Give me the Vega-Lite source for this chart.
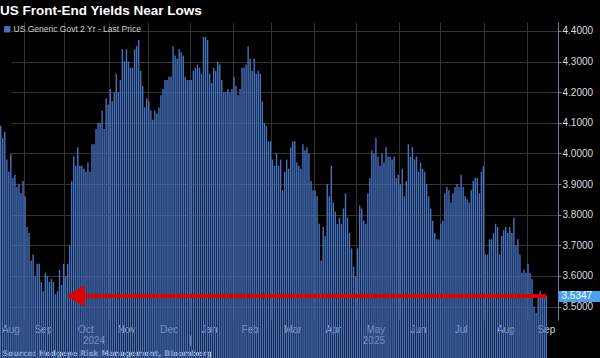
{
"$schema": "https://vega.github.io/schema/vega-lite/v6.json",
"width": 558, "height": 298,
"autosize": "none",
"padding": {"left": 0, "top": 22, "right": 42, "bottom": 38},
"background": "#000000",
"config": {"view": {"stroke": null}, "font": "Liberation Sans"},
"title": {"text": "US Front-End Yields Near Lows", "anchor": "start", "frame": "group", "color": "#ffffff", "font": "Liberation Sans", "fontSize": 13.5, "fontWeight": "bold", "baseline": "alphabetic", "offset": -6},
"datasets": {
"yields": [
{"d":"2024-08-15","v":4.09},{"d":"2024-08-16","v":4.05},{"d":"2024-08-19","v":4.07},{"d":"2024-08-20","v":3.98},{"d":"2024-08-21","v":3.94},{"d":"2024-08-22","v":4.00},{"d":"2024-08-23","v":3.92},{"d":"2024-08-26","v":3.93},{"d":"2024-08-27","v":3.89},{"d":"2024-08-28","v":3.90},{"d":"2024-08-29","v":3.87},{"d":"2024-08-30","v":3.91},
{"d":"2024-09-03","v":3.86},{"d":"2024-09-04","v":3.76},{"d":"2024-09-05","v":3.74},{"d":"2024-09-06","v":3.65},{"d":"2024-09-09","v":3.67},{"d":"2024-09-10","v":3.60},{"d":"2024-09-11","v":3.64},{"d":"2024-09-12","v":3.64},{"d":"2024-09-13","v":3.58},{"d":"2024-09-16","v":3.55},{"d":"2024-09-17","v":3.61},{"d":"2024-09-18","v":3.60},{"d":"2024-09-19","v":3.58},{"d":"2024-09-20","v":3.59},{"d":"2024-09-23","v":3.58},{"d":"2024-09-24","v":3.54},{"d":"2024-09-25","v":3.55},{"d":"2024-09-26","v":3.62},{"d":"2024-09-27","v":3.57},{"d":"2024-09-30","v":3.64},
{"d":"2024-10-01","v":3.60},{"d":"2024-10-02","v":3.64},{"d":"2024-10-03","v":3.70},{"d":"2024-10-04","v":3.91},{"d":"2024-10-07","v":3.99},{"d":"2024-10-08","v":3.96},{"d":"2024-10-09","v":4.02},{"d":"2024-10-10","v":3.96},{"d":"2024-10-11","v":3.96},{"d":"2024-10-15","v":3.95},{"d":"2024-10-16","v":3.94},{"d":"2024-10-17","v":3.97},{"d":"2024-10-18","v":3.94},{"d":"2024-10-21","v":4.03},{"d":"2024-10-22","v":4.03},{"d":"2024-10-23","v":4.08},{"d":"2024-10-24","v":4.10},{"d":"2024-10-25","v":4.10},{"d":"2024-10-28","v":4.14},{"d":"2024-10-29","v":4.08},{"d":"2024-10-30","v":4.18},{"d":"2024-10-31","v":4.16},
{"d":"2024-11-01","v":4.21},{"d":"2024-11-04","v":4.17},{"d":"2024-11-05","v":4.20},{"d":"2024-11-06","v":4.26},{"d":"2024-11-07","v":4.20},{"d":"2024-11-08","v":4.24},{"d":"2024-11-12","v":4.34},{"d":"2024-11-13","v":4.30},{"d":"2024-11-14","v":4.34},{"d":"2024-11-15","v":4.30},{"d":"2024-11-18","v":4.28},{"d":"2024-11-19","v":4.28},{"d":"2024-11-20","v":4.34},{"d":"2024-11-21","v":4.35},{"d":"2024-11-22","v":4.37},{"d":"2024-11-25","v":4.27},{"d":"2024-11-26","v":4.22},{"d":"2024-11-27","v":4.15},{"d":"2024-11-29","v":4.18},
{"d":"2024-12-02","v":4.17},{"d":"2024-12-03","v":4.14},{"d":"2024-12-04","v":4.11},{"d":"2024-12-05","v":4.14},{"d":"2024-12-06","v":4.13},{"d":"2024-12-09","v":4.15},{"d":"2024-12-10","v":4.19},{"d":"2024-12-11","v":4.21},{"d":"2024-12-12","v":4.24},{"d":"2024-12-13","v":4.24},{"d":"2024-12-16","v":4.25},{"d":"2024-12-17","v":4.25},{"d":"2024-12-18","v":4.35},{"d":"2024-12-19","v":4.32},{"d":"2024-12-20","v":4.31},{"d":"2024-12-23","v":4.34},{"d":"2024-12-24","v":4.33},{"d":"2024-12-26","v":4.32},{"d":"2024-12-27","v":4.25},{"d":"2024-12-30","v":4.24},{"d":"2024-12-31","v":4.24},
{"d":"2025-01-02","v":4.24},{"d":"2025-01-03","v":4.27},{"d":"2025-01-06","v":4.28},{"d":"2025-01-07","v":4.29},{"d":"2025-01-08","v":4.28},{"d":"2025-01-09","v":4.26},{"d":"2025-01-10","v":4.38},{"d":"2025-01-13","v":4.38},{"d":"2025-01-14","v":4.37},{"d":"2025-01-15","v":4.26},{"d":"2025-01-16","v":4.23},{"d":"2025-01-17","v":4.28},{"d":"2025-01-21","v":4.27},{"d":"2025-01-22","v":4.30},{"d":"2025-01-23","v":4.29},{"d":"2025-01-24","v":4.24},{"d":"2025-01-27","v":4.20},{"d":"2025-01-28","v":4.20},{"d":"2025-01-29","v":4.21},{"d":"2025-01-30","v":4.20},{"d":"2025-01-31","v":4.21},
{"d":"2025-02-03","v":4.25},{"d":"2025-02-04","v":4.22},{"d":"2025-02-05","v":4.19},{"d":"2025-02-06","v":4.21},{"d":"2025-02-07","v":4.28},{"d":"2025-02-10","v":4.28},{"d":"2025-02-11","v":4.29},{"d":"2025-02-12","v":4.35},{"d":"2025-02-13","v":4.31},{"d":"2025-02-14","v":4.27},{"d":"2025-02-18","v":4.31},{"d":"2025-02-19","v":4.26},{"d":"2025-02-20","v":4.27},{"d":"2025-02-21","v":4.26},{"d":"2025-02-24","v":4.17},{"d":"2025-02-25","v":4.10},{"d":"2025-02-26","v":4.09},{"d":"2025-02-27","v":4.04},{"d":"2025-02-28","v":4.04},
{"d":"2025-03-03","v":3.98},{"d":"2025-03-04","v":3.96},{"d":"2025-03-05","v":4.00},{"d":"2025-03-06","v":3.96},{"d":"2025-03-07","v":3.98},{"d":"2025-03-10","v":3.88},{"d":"2025-03-11","v":3.94},{"d":"2025-03-12","v":3.98},{"d":"2025-03-13","v":3.95},{"d":"2025-03-14","v":4.02},{"d":"2025-03-17","v":4.04},{"d":"2025-03-18","v":4.04},{"d":"2025-03-19","v":3.97},{"d":"2025-03-20","v":3.96},{"d":"2025-03-21","v":3.95},{"d":"2025-03-24","v":4.03},{"d":"2025-03-25","v":4.01},{"d":"2025-03-26","v":4.02},{"d":"2025-03-27","v":4.00},{"d":"2025-03-28","v":3.91},{"d":"2025-03-31","v":3.88},
{"d":"2025-04-01","v":3.88},{"d":"2025-04-02","v":3.86},{"d":"2025-04-03","v":3.77},{"d":"2025-04-04","v":3.65},{"d":"2025-04-07","v":3.76},{"d":"2025-04-08","v":3.73},{"d":"2025-04-09","v":3.90},{"d":"2025-04-10","v":3.86},{"d":"2025-04-11","v":3.96},{"d":"2025-04-14","v":3.84},{"d":"2025-04-15","v":3.81},{"d":"2025-04-16","v":3.77},{"d":"2025-04-17","v":3.79},{"d":"2025-04-21","v":3.77},{"d":"2025-04-22","v":3.82},{"d":"2025-04-23","v":3.87},{"d":"2025-04-24","v":3.79},{"d":"2025-04-25","v":3.74},{"d":"2025-04-28","v":3.69},{"d":"2025-04-29","v":3.63},{"d":"2025-04-30","v":3.60},
{"d":"2025-05-01","v":3.69},{"d":"2025-05-02","v":3.83},{"d":"2025-05-05","v":3.82},{"d":"2025-05-06","v":3.78},{"d":"2025-05-07","v":3.77},{"d":"2025-05-08","v":3.87},{"d":"2025-05-09","v":3.92},{"d":"2025-05-12","v":4.01},{"d":"2025-05-13","v":4.00},{"d":"2025-05-14","v":4.05},{"d":"2025-05-15","v":3.99},{"d":"2025-05-16","v":3.96},{"d":"2025-05-19","v":4.00},{"d":"2025-05-20","v":3.97},{"d":"2025-05-21","v":4.02},{"d":"2025-05-22","v":3.99},{"d":"2025-05-23","v":3.99},{"d":"2025-05-27","v":3.98},{"d":"2025-05-28","v":3.99},{"d":"2025-05-29","v":3.92},{"d":"2025-05-30","v":3.93},
{"d":"2025-06-02","v":3.90},{"d":"2025-06-03","v":3.95},{"d":"2025-06-04","v":3.86},{"d":"2025-06-05","v":3.91},{"d":"2025-06-06","v":4.03},{"d":"2025-06-09","v":3.99},{"d":"2025-06-10","v":4.02},{"d":"2025-06-11","v":3.98},{"d":"2025-06-12","v":3.99},{"d":"2025-06-13","v":3.94},{"d":"2025-06-16","v":3.97},{"d":"2025-06-17","v":3.95},{"d":"2025-06-18","v":3.94},{"d":"2025-06-20","v":3.90},{"d":"2025-06-23","v":3.86},{"d":"2025-06-24","v":3.82},{"d":"2025-06-25","v":3.78},{"d":"2025-06-26","v":3.74},{"d":"2025-06-27","v":3.72},{"d":"2025-06-30","v":3.72},
{"d":"2025-07-01","v":3.77},{"d":"2025-07-02","v":3.78},{"d":"2025-07-03","v":3.87},{"d":"2025-07-07","v":3.89},{"d":"2025-07-08","v":3.88},{"d":"2025-07-09","v":3.84},{"d":"2025-07-10","v":3.87},{"d":"2025-07-11","v":3.89},{"d":"2025-07-14","v":3.90},{"d":"2025-07-15","v":3.89},{"d":"2025-07-16","v":3.93},{"d":"2025-07-17","v":3.89},{"d":"2025-07-18","v":3.86},{"d":"2025-07-21","v":3.85},{"d":"2025-07-22","v":3.84},{"d":"2025-07-23","v":3.88},{"d":"2025-07-24","v":3.91},{"d":"2025-07-25","v":3.92},{"d":"2025-07-28","v":3.92},{"d":"2025-07-29","v":3.87},{"d":"2025-07-30","v":3.94},{"d":"2025-07-31","v":3.96},
{"d":"2025-08-01","v":3.67},{"d":"2025-08-04","v":3.67},{"d":"2025-08-05","v":3.72},{"d":"2025-08-06","v":3.72},{"d":"2025-08-07","v":3.74},{"d":"2025-08-08","v":3.77},{"d":"2025-08-11","v":3.76},{"d":"2025-08-12","v":3.67},{"d":"2025-08-13","v":3.73},{"d":"2025-08-14","v":3.75},{"d":"2025-08-15","v":3.76},{"d":"2025-08-18","v":3.74},{"d":"2025-08-19","v":3.76},{"d":"2025-08-20","v":3.74},{"d":"2025-08-21","v":3.79},{"d":"2025-08-22","v":3.70},{"d":"2025-08-25","v":3.72},{"d":"2025-08-26","v":3.67},{"d":"2025-08-27","v":3.61},{"d":"2025-08-28","v":3.62},{"d":"2025-08-29","v":3.61},
{"d":"2025-09-02","v":3.64},{"d":"2025-09-03","v":3.61},{"d":"2025-09-04","v":3.59},{"d":"2025-09-05","v":3.50},{"d":"2025-09-08","v":3.48},{"d":"2025-09-09","v":3.53},{"d":"2025-09-10","v":3.55},{"d":"2025-09-11","v":3.54},{"d":"2025-09-12","v":3.53},{"d":"2025-09-15","v":3.5347}
],
"arrow": [{"from": "2024-10-08", "to": "2025-09-15", "level": 3.5347}]
},
"layer": [
{
"data": {"name": "yields"},
"mark": {"type": "bar", "color": "#4571bd"},
"encoding": {
"x": {"field": "d", "type": "ordinal",
"scale": {"range": [0, 547], "paddingInner": 0.3, "paddingOuter": 0},
"axis": {"orient": "bottom", "values": ["2024-09-03","2024-10-01","2024-11-01","2024-12-02","2025-01-02","2025-02-03","2025-03-03","2025-04-01","2025-05-01","2025-06-02","2025-07-01","2025-08-01","2025-09-02"],
"labels": false, "ticks": false, "domain": false, "grid": true, "gridColor": "#333333", "gridWidth": 1, "bandPosition": 0,
"title": "Source: Hedgeye Risk Management, Bloomberg", "titleFont": "DejaVu Sans", "titleFontSize": 7.8, "titleFontWeight": "bold", "titleColor": "#ffffff", "titleAnchor": "start", "titleAlign": "left", "titleX": 2, "titleY": 35.5, "titleBaseline": "alphabetic"}},
"y": {"field": "v", "type": "quantitative",
"scale": {"domain": [3.456, 4.429], "zero": false, "nice": false},
"axis": {"orient": "right", "values": [3.5,3.6,3.7,3.8,3.9,4.0,4.1,4.2,4.3,4.4], "format": ".4f", "labelColor": "#dddddd", "labelFont": "Liberation Sans", "labelFontSize": 10, "labelPadding": 1, "tickSize": 3, "tickColor": "#888888", "domainColor": "#7080a0", "grid": true, "gridColor": "#333333", "title": null}},
"color": {"datum": "US Generic Govt 2 Yr - Last Price", "scale": {"range": ["#4571bd"]},
"legend": {"orient": "top-left", "offset": 3, "title": null, "padding": 0, "symbolType": "square", "symbolSize": 40, "symbolStrokeWidth": 0, "labelFont": "Liberation Sans", "labelFontSize": 8.5, "labelColor": "#d0d0d0", "labelOffset": 2}}
}
},
{
"data": {"name": "arrow"},
"mark": {"type": "rule", "color": "#dd0000", "strokeWidth": 4, "strokeCap": "butt"},
"encoding": {
"x": {"field": "from", "type": "ordinal",
"axis": {"orient": "bottom", "values": ["2024-08-22","2024-09-16","2024-10-16","2024-11-14","2024-12-16","2025-01-15","2025-02-13","2025-03-17","2025-04-14","2025-05-14","2025-06-13","2025-07-16","2025-08-15","2025-09-15"],
"labelExpr": "utcFormat(toDate(datum.value), '%b')", "labelAngle": 0, "labelOverlap": false, "ticks": false, "grid": false, "domain": false, "labelColor": "#d9d9d9", "labelFont": "Liberation Sans", "labelFontSize": 10, "labelPadding": 4, "bandPosition": 0.5, "title": null}},
"x2": {"field": "to"},
"y": {"field": "level", "type": "quantitative", "axis": null}
}
},
{
"data": {"name": "arrow"},
"mark": {"type": "point", "shape": "triangle-left", "filled": true, "size": 450, "color": "#dd0000", "opacity": 1},
"encoding": {
"x": {"field": "from", "type": "ordinal",
"axis": {"orient": "bottom", "values": ["2024-10-22", "2025-01-02", "2025-05-13"],
"labelExpr": "datum.value == '2024-10-22' ? '2024' : datum.value == '2025-05-13' ? '2025' : ''", "labelAngle": 0, "labelOverlap": false,
"offset": 15, "ticks": true, "tickSize": 10, "tickColor": "#8a8a8a", "tickOpacity": {"condition": {"test": "datum.value == '2025-01-02'", "value": 1}, "value": 0},
"labelPadding": -10, "domain": false, "grid": false, "bandPosition": 0, "labelColor": "#d9d9d9", "labelFont": "Liberation Sans", "labelFontSize": 10, "title": null}},
"y": {"field": "level", "type": "quantitative",
"axis": {"orient": "right", "values": [3.5347], "format": ".4f", "tickSize": 42, "tickWidth": 11, "tickColor": "#4a9ff0", "labelPadding": -39, "labelAlign": "left", "labelColor": "#ffffff", "labelFont": "Liberation Sans", "labelFontSize": 10, "domain": false, "grid": false, "title": null, "zindex": 1}}
}
}
],
"resolve": {"axis": {"x": "independent", "y": "independent"}}
}
